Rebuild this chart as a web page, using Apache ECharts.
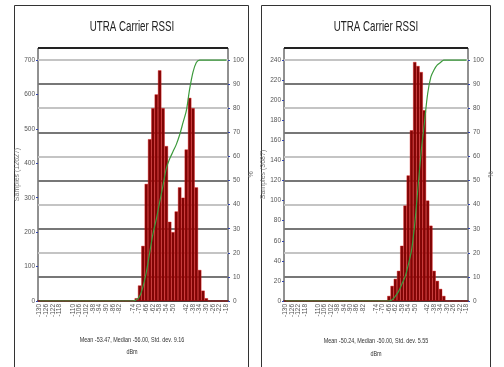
<!DOCTYPE html>
<html>
<head>
<meta charset="utf-8">
<script src="https://cdn.jsdelivr.net/npm/echarts@6/dist/echarts.min.js"></script>
<style>
  html, body { margin: 0; padding: 0; background: #fff; }
  #main { width: 504px; height: 367px; }
</style>
</head>
<body>
<div id="main"></div>
<script>
// dBm bins, 2 dB wide
const bins = ['-130','-128','-126','-124','-122','-120','-118','-116','-114','-112',
  '-110','-108','-106','-104','-102','-100','-98','-96','-94','-92',
  '-90','-88','-86','-84','-82','-80','-78','-76','-74','-72',
  '-70','-68','-66','-64','-62','-60','-58','-56','-54','-52',
  '-50','-48','-46','-44','-42','-40','-38','-36','-34','-32',
  '-30','-28','-26','-24','-22','-20','-18']
// labels the original shows under the axis
const xTickLabels = ['-130','-126','-122','-118',
  '-110','-106','-102','-98','-94','-90','-86','-82',
  '-74','-70','-66','-62','-58','-54','-50',
  '-42','-38','-34','-30','-26','-22','-18']

// left panel: samples per bin and cumulative %
const samplesA = [0,0,0,0,0,0,0,0,0,0, 0,0,0,0,0,0,0,0,0,0, 0,0,0,0,0,0,0,0,0,8,
  45,160,340,470,560,600,670,560,450,230, 200,260,330,300,440,590,560,330,90,30,
  8,0,0,0,0,0,0]
const cumA = [0,0,0,0,0,0,0,0,0,0, 0,0,0,0,0,0,0,0,0,0, 0,0,0,0,0,0,0,0,0,0.5,
  2,6,12,20,28,34,41,48,55,59, 62,65,69,74,79,88,95,99,100,100,
  100,100,100,100,100,100,100]

// right panel
const samplesB = [0,0,0,0,0,0,0,0,0,0, 0,0,0,0,0,0,0,0,0,0, 0,0,0,0,0,0,0,0,0,0,
  0,0,5,15,22,30,55,95,125,170, 238,234,228,190,100,75,30,20,12,5,
  0,0,0,0,0,0,0]
const cumB = [0,0,0,0,0,0,0,0,0,0, 0,0,0,0,0,0,0,0,0,0, 0,0,0,0,0,0,0,0,0,0,
  0,0,0,0.5,2,4,7,10,15,21, 32,47,62,74,86,93,96,98,99,100,
  100,100,100,100,100,100,100]

const titleText = 'UTRA Carrier RSSI'
const statsA = 'Mean -53.47, Median -56.00, Std. dev. 9.16'
const statsB = 'Mean -50.24, Median -50.00, Std. dev. 5.55'
const yNameA = 'Samples (12627)'
const yNameB = 'Samples (3087)'

const FONT = 'Liberation Sans'
const chart = echarts.init(document.getElementById('main'))

function xAxis(gridIndex) {
  return {
    type: 'category', gridIndex: gridIndex, data: bins,
    axisLine: { lineStyle: { color: '#111', width: 1.5 } },
    axisTick: { show: false },
    axisLabel: {
      interval: 0, rotate: 90, fontSize: 6.5, color: '#555', fontFamily: FONT, margin: 3,
      formatter: function (v) { return xTickLabels.indexOf(v) >= 0 ? v : '' }
    },
    splitLine: { show: false }
  }
}
function countAxis(gridIndex, max, interval, name) {
  return {
    type: 'value', gridIndex: gridIndex, position: 'left', min: 0, max: max, interval: interval,
    name: name, nameLocation: 'middle', nameGap: 16, nameRotate: 90,
    nameTextStyle: { fontSize: 7, color: '#777', fontFamily: FONT },
    axisLine: { show: false },
    axisTick: { show: true, length: 2, lineStyle: { color: '#3344aa' } },
    axisLabel: { showMaxLabel: false, fontSize: 6.5, color: '#555', fontFamily: FONT, margin: 3 },
    splitLine: { show: false }
  }
}
function pctAxis(gridIndex) {
  return {
    type: 'value', gridIndex: gridIndex, position: 'right', min: 0, max: 105, interval: 10,
    name: '%', nameLocation: 'middle', nameGap: 14, nameRotate: 90,
    nameTextStyle: { fontSize: 7, color: '#777', fontFamily: FONT },
    axisLine: { show: false },
    axisTick: { show: true, length: 2, lineStyle: { color: '#3344aa' } },
    axisLabel: { showMaxLabel: false, fontSize: 6.5, color: '#555', fontFamily: FONT, margin: 5 },
    splitLine: { show: true, lineStyle: { color: ['#c4c4c4', '#777'], width: 2 } }
  }
}
function bars(idx, data) {
  return {
    type: 'bar', xAxisIndex: idx, yAxisIndex: idx * 2, data: data,
    barCategoryGap: '0%', silent: true,
    itemStyle: { color: '#7e0606', borderColor: '#e01010', borderWidth: 0.4 }
  }
}
function cumLine(idx, data) {
  return {
    type: 'line', xAxisIndex: idx, yAxisIndex: idx * 2 + 1, data: data,
    smooth: 0.3, symbol: 'none', z: 5,
    lineStyle: { color: '#3c9a3c', width: 1.2 }
  }
}
function panelText(x, y, text, size, scale, color) {
  return {
    type: 'text', x: x, y: y, scaleX: scale, originX: 0, originY: 0,
    style: { text: text, fontSize: size, fontFamily: FONT, fill: color, align: 'center', verticalAlign: 'middle' }
  }
}

const option = {
  animation: false,
  backgroundColor: '#fff',
  grid: [
    { left: 38, right: 276, top: 48, bottom: 66, show: true, borderColor: '#222', borderWidth: 1 },
    { left: 284, right: 36, top: 48, bottom: 66, show: true, borderColor: '#222', borderWidth: 1 }
  ],
  xAxis: [xAxis(0), xAxis(1)],
  yAxis: [
    countAxis(0, 735, 100, yNameA), pctAxis(0),
    countAxis(1, 252, 20, yNameB), pctAxis(1)
  ],
  series: [bars(0, samplesA), cumLine(0, cumA), bars(1, samplesB), cumLine(1, cumB)],
  graphic: [
    { type: 'rect', shape: { x: 14.5, y: 5.5, width: 234, height: 400 }, style: { fill: 'none', stroke: '#333', lineWidth: 1 }, silent: true },
    { type: 'rect', shape: { x: 261.5, y: 5.5, width: 229, height: 400 }, style: { fill: 'none', stroke: '#333', lineWidth: 1 }, silent: true },
    { type: 'line', shape: { x1: 38, y1: 48, x2: 228, y2: 48 }, style: { stroke: '#222', lineWidth: 2 }, z: 10 },
    { type: 'line', shape: { x1: 284, y1: 48, x2: 468, y2: 48 }, style: { stroke: '#222', lineWidth: 2 }, z: 10 },
    panelText(132, 27, titleText, 15, 0.65, '#222'),
    panelText(376, 27, titleText, 15, 0.65, '#222'),
    panelText(132, 340, statsA, 8, 0.68, '#333'),
    panelText(132, 352, 'dBm', 8, 0.68, '#333'),
    panelText(376, 341, statsB, 8, 0.68, '#333'),
    panelText(376, 354, 'dBm', 8, 0.68, '#333')
  ]
}
chart.setOption(option)
</script>
</body>
</html>
